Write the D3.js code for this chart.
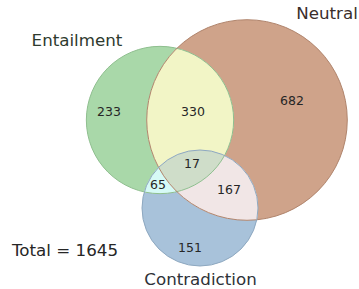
<!DOCTYPE html>
<html><head><meta charset="utf-8">
<script src="https://cdn.jsdelivr.net/npm/d3@7"></script>
<style>body{margin:0;background:#fff}svg{display:block}</style>
</head><body>
<script>
// ---- data ----
const setNames = ["Entailment", "Neutral", "Contradiction"];
// region keys: E only, N only, E&N, C only, E&C, N&C, E&N&C
const regionKeys = ["100", "010", "110", "001", "101", "011", "111"];
const regionCounts = [233, 682, 330, 151, 65, 167, 17];
const total = 1645;

// ---- layout (abstract units) ----
const setCenters = [[1.60, 1.20], [2.47, 1.20], [2.00, 2.08]];
const regionLabelPos = {"100": [1.09, 1.11], "010": [2.92, 1.00], "110": [1.93, 1.11],
  "001": [1.90, 2.47], "101": [1.58, 1.84], "011": [2.29, 1.89], "111": [1.92, 1.63]};
const setLabelPos = [[0.77, 0.40, "middle"], [3.27, 0.13, "middle"], [2.005, 2.785, "middle"]];
const fillColors = {"100": "#a9d8a9", "010": "#cfa38a", "110": "#f2f5c6", "001": "#a8c2da",
  "101": "#d6faf6", "011": "#f1e6e6", "111": "#cfddc9"};
const edgeColors = ["#8fbf8f", "#b0846c", "#8ea8c0"];
const labelColors = ["#2e3a2e", "#3a2e2a", "#2e3238"];

const W = 359, H = 289;
const x = d3.scaleLinear().domain([0, 3.59]).range([0, W]);
const y = d3.scaleLinear().domain([0, 2.89]).range([0, H]);

const setSizes = [0, 1, 2].map(i => regionKeys.reduce((s, k, j) => s + (k[i] === "1" ? regionCounts[j] : 0), 0));
const rScale = d3.scaleSqrt().domain([0, 400]).range([0, 58]);

const circles = setSizes.map((s, i) => ({cx: x(setCenters[i][0]), cy: y(setCenters[i][1]), r: rScale(s)}));

const svg = d3.select("body").append("svg").attr("width", W).attr("height", H);
const defs = svg.append("defs");

circles.forEach((c, i) => {
  defs.append("clipPath").attr("id", "clip" + i)
    .append("circle").attr("cx", c.cx).attr("cy", c.cy).attr("r", c.r);
});

regionKeys.forEach(k => {
  const excl = [0, 1, 2].filter(i => k[i] === "0");
  const incl = [0, 1, 2].filter(i => k[i] === "1");
  const m = defs.append("mask").attr("id", "mask" + k)
    .attr("maskUnits", "userSpaceOnUse").attr("x", 0).attr("y", 0).attr("width", W).attr("height", H);
  m.append("rect").attr("width", W).attr("height", H).attr("fill", "#fff");
  excl.forEach(i => m.append("circle").attr("cx", circles[i].cx).attr("cy", circles[i].cy).attr("r", circles[i].r).attr("fill", "#000"));
  let g = svg.append("g").attr("mask", "url(#mask" + k + ")");
  incl.forEach(i => { g = g.append("g").attr("clip-path", "url(#clip" + i + ")"); });
  g.append("rect").attr("width", W).attr("height", H).attr("fill", fillColors[k]);
});

svg.selectAll("circle.outline").data(circles).join("circle").attr("class", "outline")
  .attr("cx", d => d.cx).attr("cy", d => d.cy).attr("r", d => d.r)
  .attr("fill", "none").attr("stroke", (d, i) => edgeColors[i]).attr("stroke-width", 1);

svg.selectAll("text.region").data(regionKeys).join("text").attr("class", "region")
  .attr("x", k => x(regionLabelPos[k][0])).attr("y", k => y(regionLabelPos[k][1]))
  .attr("text-anchor", "middle").attr("dominant-baseline", "central")
  .attr("font-family", "DejaVu Sans").attr("font-size", 12.5).attr("fill", "#262626")
  .text((k, i) => regionCounts[i]);

svg.selectAll("text.setlabel").data(setNames).join("text").attr("class", "setlabel")
  .attr("x", (d, i) => x(setLabelPos[i][0])).attr("y", (d, i) => y(setLabelPos[i][1]))
  .attr("text-anchor", (d, i) => setLabelPos[i][2]).attr("dominant-baseline", "central")
  .attr("font-family", "DejaVu Sans").attr("font-size", 16.7).attr("fill", (d, i) => labelColors[i])
  .text(d => d);

svg.append("text").attr("x", x(0.12)).attr("y", y(2.495))
  .attr("dominant-baseline", "central")
  .attr("font-family", "DejaVu Sans").attr("font-size", 16.7).attr("fill", "#262626")
  .text("Total = " + total);
</script>
</body></html>
